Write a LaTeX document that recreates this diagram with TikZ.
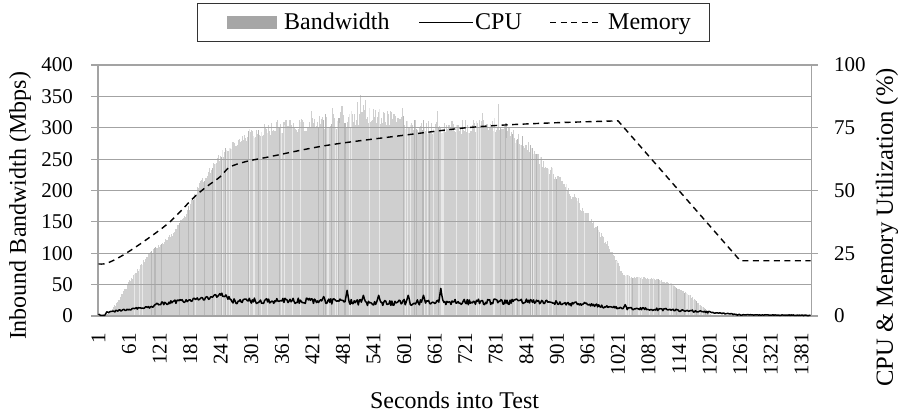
\documentclass[tikz,border=0pt]{standalone}
\usepackage{fontspec}
\setmainfont{Liberation Serif}
\usetikzlibrary{positioning}
\definecolor{gridgray}{HTML}{A3A3A3}
\definecolor{bwkey}{HTML}{A6A6A6}
\tikzset{
    grid line/.style = {draw=gridgray, line width=1.2pt},
    tick label/.style = {font=\fontsize{21}{21}\selectfont, inner sep=0pt},
    axis title/.style = {font=\fontsize{24}{24}\selectfont, inner sep=0pt},
    legend text/.style = {font=\fontsize{24}{24}\selectfont, inner sep=0pt},
    bar/.style = {line width=1.15pt},
    cpu line/.style = {black, line width=1.5pt, line join=round},
    mem line/.style = {black, line width=1.4pt, dash pattern=on 6pt off 4.5pt}
}

\begin{document}
\begin{tikzpicture}[x=1pt, y=1pt]
    \useasboundingbox (0,0) rectangle (904,415);
    \pgfmathsetseed{11}
    % data area: x in seconds, y in Mbps
    \begin{scope}[shift={(98.05,99)}, x=0.5093pt, y=0.6275pt]
        % bandwidth bars
        \foreach \sa/\va/\sb/\vb/\amp in {
            1/0/21/4/1, 21/4/41/24/2, 41/24/61/55/3, 61/55/101/100/3,
            101/100/131/118/3, 131/118/151/134/3, 151/134/171/160/4,
            171/160/201/212/5, 201/212/241/255/6, 241/255/271/275/7,
            271/275/301/292/8, 301/292/351/300/10, 351/300/431/305/12,
            431/305/471/312/14, 471/312/521/322/16, 521/322/581/315/15,
            581/315/631/302/12, 631/302/701/300/12, 701/300/781/304/12,
            781/304/831/282/12, 831/282/861/254/10, 861/254/901/222/8,
            901/222/951/172/8, 951/172/1001/116/6, 1001/116/1029/66/4,
            1029/66/1041/63/2, 1041/63/1101/58/2, 1101/58/1131/48/2,
            1131/48/1161/33/2, 1161/33/1191/12/2, 1191/12/1207/0/1} {
            \pgfmathtruncatemacro\n{(\sb-\sa)/2-1}
            \foreach \k in {0,...,\n} {
                \pgfmathtruncatemacro\s{\sa+2*\k}
                \pgfmathsetmacro\v{max(0,\va+(\vb-\va)*(\s-\sa)/(\sb-\sa)+\amp*rand)}
                \pgfmathtruncatemacro\shade{ifthenelse(rnd>0.87,91,ifthenelse(rnd<0.1,72,81))}
                \draw[bar, white!\shade!black] (\s,0) -- (\s,\v);
            }
        }
        \foreach \s/\v in {419/326, 461/331, 479/335, 509/341, 515/352, 525/344,
                           597/331, 667/327, 755/323, 787/338}
            \draw[bar, white!81!black] (\s,0) -- (\s,\v);
    \end{scope}

    % grid and axes
    \foreach \k in {0,...,8} {
        \pgfmathsetmacro\gy{99+\k*31.375}
        \pgfmathtruncatemacro\mb{50*\k}
        \draw[grid line] (91,\gy) -- (811.5,\gy);
        \node[tick label, anchor=east] (yl\k) at (73,\gy) {\mb};
    }
    \foreach \k in {0,...,4} {
        \pgfmathsetmacro\gy{99+\k*62.75}
        \pgfmathtruncatemacro\pc{25*\k}
        \draw[grid line] (811.5,\gy) -- (818,\gy);
        \node[tick label, anchor=west] (yr\k) at (834,\gy) {\pc};
    }
    \draw[grid line] (98,99) -- (98,350);
    \draw[grid line] (811.5,99) -- (811.5,350);

    % seconds along the bottom
    \foreach \t in {1,61,...,1381} {
        \node[tick label, rotate=90, anchor=east] (xl\t) at ({98.05+\t*0.5093},82) {\t};
    }

    \node[axis title] (xtitle) at (454.5,15) {Seconds into Test};
    \node[axis title, rotate=90] (ytitle) at (20,209) {Inbound Bandwidth (Mbps)};
    \node[axis title, rotate=90, font=\fontsize{24.6}{24.6}\selectfont] (rtitle)
        at (887,187.5) {CPU \& Memory Utilization (\%)};

    \begin{scope}[shift={(98.05,99)}, x=0.5093pt, y=0.6275pt]
        % memory, right scale (x4)
        \draw[mem line] plot[smooth, tension=0.55] coordinates {
            (1,83) (17,84) (47,96) (92,120) (141,150) (187,188) (213,206)
            (240,222) (258,237) (290,246) (332,253) (450,272) (600,288)
            (711,299) (790,304) (900,308) (1021,311)}
            -- (1261,88) -- (1399,88);

        % cpu, right scale (x4)
        \def\cpupath{}
        \foreach \sa/\va/\sb/\vb/\amp in {
            1/3/5/1/0, 5/1/13/1/0, 13/1/17/6/0, 17/6/61/11/1.5,
            61/11/101/14/1.8, 101/14/121/20/2, 121/20/201/27/3,
            201/27/245/34/3, 245/34/265/24/3, 265/24/439/24/4.5,
            439/24/443/31/0, 443/31/447/23/0, 447/23/485/23/4.5,
            485/23/489/41/0, 489/41/493/22/0, 493/22/517/22/4.5,
            517/22/521/33/0, 521/33/525/21/0, 525/21/547/22/4.5,
            547/22/551/33/0, 551/33/555/21/0, 555/21/605/22/4.5,
            605/22/609/33/0, 609/33/613/21/0, 613/21/635/22/4.5,
            635/22/639/33/0, 639/33/643/21/0, 643/21/669/22/4.5,
            669/22/673/44/0, 673/44/677/22/0, 677/22/851/23/4.5,
            851/23/961/18/3.5, 961/18/1031/12/2.5,
            1031/12/1035/18/0, 1035/18/1039/12/0, 1039/12/1121/10/2,
            1121/10/1201/6/1.8, 1201/6/1261/2/1, 1261/2/1399/1/0.5} {
            \pgfmathtruncatemacro\n{(\sb-\sa)/2-1}
            \foreach \k in {0,...,\n} {
                \pgfmathtruncatemacro\s{\sa+2*\k}
                \pgfmathsetmacro\v{max(0.5,\va+(\vb-\va)*(\s-\sa)/(\sb-\sa)+\amp*rand)}
                \xdef\cpupath{\cpupath (\s,\v) --}
            }
        }
        \draw[cpu line] \cpupath (1399,1);
    \end{scope}

    % legend
    \node[draw=black!80, line width=1.4pt, minimum width=512pt, minimum height=38pt,
          inner sep=0pt] (legend) at (453.5,392.5) {};
    \node[fill=bwkey, minimum width=50pt, minimum height=13pt, inner sep=0pt]
        (bwkey) at (252,392.5) {};
    \node[legend text, anchor=base west] (bwtext) at (284,385) {Bandwidth};
    \coordinate (cpua) at (419,392.5);
    \coordinate (cpub) at (473,392.5);
    \draw[cpu line] (cpua) -- (cpub);
    \node[legend text, anchor=base west] (cputext) at (475,385) {CPU};
    \coordinate (mema) at (550,392.5);
    \coordinate (memb) at (601,392.5);
    \draw[mem line] (mema) -- (memb);
    \node[legend text, anchor=base west] (memtext) at (608,385) {Memory};
\end{tikzpicture}
\end{document}
